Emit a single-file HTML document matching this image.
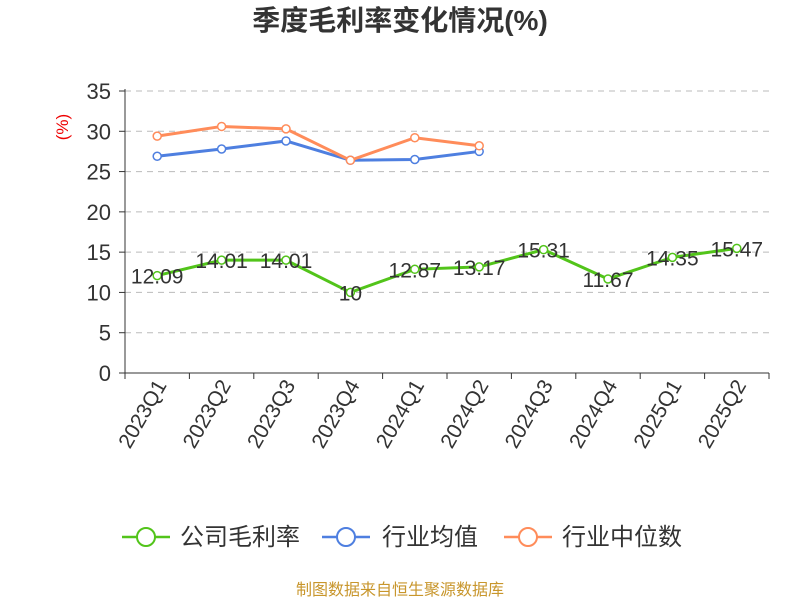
<!DOCTYPE html>
<html><head><meta charset="utf-8">
<style>
body{margin:0;background:#fff;font-family:"Liberation Sans","Noto Sans CJK SC",sans-serif;}
svg{display:block}
</style></head>
<body>
<svg id="chart" width="800" height="600" xmlns="http://www.w3.org/2000/svg">
<text x="400" y="30" text-anchor="middle" font-size="28" font-weight="bold" fill="#333" font-family="Liberation Sans,Noto Sans CJK SC,sans-serif">季度毛利率变化情况(%)</text>
<text x="68" y="127" text-anchor="middle" font-size="17" fill="#e00" transform="rotate(-90 68 127)">(%)</text>
<g id="grid"></g><g id="axes"></g><g id="series"></g>
<g>
<g><line x1="122" y1="537" x2="170" y2="537" stroke="#52c41a" stroke-width="2.5"/><circle cx="146" cy="537" r="9" fill="#fff" stroke="#52c41a" stroke-width="2"/><text x="180" y="545" font-size="24" fill="#333">公司毛利率</text></g>
<g><line x1="322" y1="537" x2="370" y2="537" stroke="#4e7fe0" stroke-width="2.5"/><circle cx="346" cy="537" r="9" fill="#fff" stroke="#4e7fe0" stroke-width="2"/><text x="382" y="545" font-size="24" fill="#333">行业均值</text></g>
<g><line x1="504" y1="537" x2="552" y2="537" stroke="#ff8c5a" stroke-width="2.5"/><circle cx="528" cy="537" r="9" fill="#fff" stroke="#ff8c5a" stroke-width="2"/><text x="562" y="545" font-size="24" fill="#333">行业中位数</text></g>
</g>
<text x="400" y="595" text-anchor="middle" font-size="16" fill="#c8962c">制图数据来自恒生聚源数据库</text>
</svg>
<script>
const categories=["2023Q1","2023Q2","2023Q3","2023Q4","2024Q1","2024Q2","2024Q3","2024Q4","2025Q1","2025Q2"];
const companyValues=[12.09,14.01,14.01,10,12.87,13.17,15.31,11.67,14.35,15.47];
const companyLabels=["12.09","14.01","14.01","10","12.87","13.17","15.31","11.67","14.35","15.47"];
const industryAvg=[26.9,27.8,28.8,26.4,26.5,27.5];
const industryMedian=[29.4,30.6,30.3,26.4,29.2,28.2];
const yTicks=[0,5,10,15,20,25,30,35];
const NS="http://www.w3.org/2000/svg";
const L=125,R=769,T=91,B=373,YMAX=35;
const bw=(R-L)/categories.length;
const x=i=>L+bw*(i+0.5);
const y=v=>B-(v/YMAX)*(B-T);
function mk(tag,attrs,parent,text){const e=document.createElementNS(NS,tag);for(const k in attrs)e.setAttribute(k,attrs[k]);if(text!==undefined)e.textContent=text;parent.appendChild(e);return e;}
const grid=document.getElementById('grid'),axes=document.getElementById('axes'),ser=document.getElementById('series');
yTicks.forEach(t=>{
 if(t>0){const g=mk('line',{x1:L,x2:R,y1:y(t),y2:y(t),stroke:'#bbb','stroke-dasharray':'6,5'},grid);
 
 }
 const tk=mk('line',{x1:L-6,x2:L,y1:y(t),y2:y(t),stroke:'#333'},axes);
 
 
 const lb=mk('text',{x:L-14,y:y(t)+8,'text-anchor':'end','font-size':22,fill:'#333'},axes,String(t));
 
 
});
const ya=mk('line',{x1:L,x2:L,y1:T-2,y2:B,stroke:'#333'},axes);


const xa=mk('line',{x1:L,x2:R,y1:B,y2:B,stroke:'#333'},axes);


for(let i=0;i<=categories.length;i++){const tk=mk('line',{x1:L+bw*i,x2:L+bw*i,y1:B,y2:B+6,stroke:'#333'},axes);
 
 }
categories.forEach((c,i)=>{const px=x(i)+10,py=B+12;
 const t=mk('text',{x:px,y:py,'text-anchor':'end','font-size':21,fill:'#333',transform:`rotate(-60 ${px} ${py})`},axes,c);
 
 });
function line(vals,color,name){
 const p=mk('polyline',{points:vals.map((v,i)=>x(i)+','+y(v)).join(' '),fill:'none',stroke:color,'stroke-width':3},ser);
 
 
 vals.forEach((v,i)=>{const c=mk('circle',{cx:x(i),cy:y(v),r:4,fill:'#fff',stroke:color,'stroke-width':1.5},ser);
 
 });
}
line(industryAvg,'#4e7fe0','industry-avg');
line(industryMedian,'#ff8c5a','industry-median');
line(companyValues,'#52c41a','company-margin');
companyValues.forEach((v,i)=>{const t=mk('text',{x:x(i),y:y(v)+8,'text-anchor':'middle','font-size':21,fill:'#333'},ser,companyLabels[i]);
 
 });
</script>
</body></html>
